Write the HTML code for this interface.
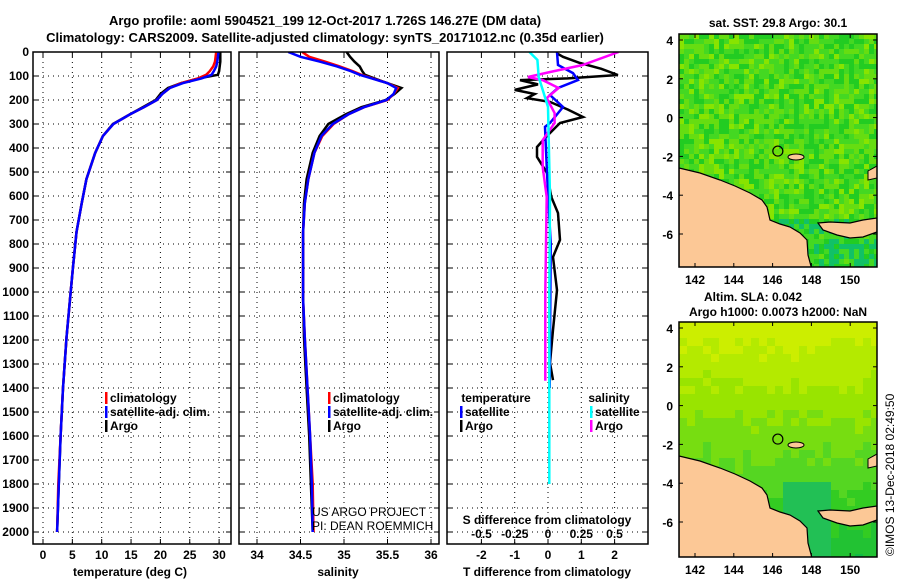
<!DOCTYPE html>
<html><head><meta charset="utf-8"><style>
body{margin:0;background:#fff;}
svg{display:block;font-family:"Liberation Sans",sans-serif;}
.b{font-weight:bold;font-size:13px;}
.t{font-weight:bold;font-size:12px;}
</style></head><body>
<svg id="s" width="900" height="580" viewBox="0 0 900 580">
<text x="325" y="25" text-anchor="middle" class="b">Argo profile: aoml 5904521_199 12-Oct-2017 1.726S 146.27E (DM data)</text>
<text x="325" y="42" text-anchor="middle" class="b">Climatology: CARS2009. Satellite-adjusted climatology: synTS_20171012.nc (0.35d earlier)</text>
<g id="g"></g>
</svg>
<script>
const depths=[0,20,40,60,80,95,110,130,150,175,200,230,260,300,350,420,530,630,750,900,1030,1190,1400,1600,1800,2000];
const argoT=[30.2,30.2,30.2,30.1,30.0,29.8,26.5,23.5,21.3,20.0,19.2,17.0,14.8,11.9,10.2,8.9,7.4,6.6,5.7,5.1,4.6,4.0,3.4,3.0,2.7,2.4];
const climT=[29.5,29.4,29.3,29.0,28.4,27.8,26.4,23.5,21.6,20.3,19.4,17.2,14.8,12.0,10.2,8.9,7.4,6.6,5.7,5.1,4.6,4.0,3.4,3.0,2.6,2.4];
const satT=[29.9,29.8,29.7,29.5,29.1,28.7,27.0,23.8,21.6,20.3,19.4,17.2,14.8,12.0,10.2,8.9,7.4,6.6,5.7,5.1,4.6,4.0,3.4,3.0,2.7,2.4];
const argoS=[35.03,35.07,35.12,35.18,35.21,35.24,35.35,35.5,35.66,35.58,35.48,35.2,35.02,34.82,34.72,34.64,34.57,34.54,34.53,34.53,34.53,34.54,34.57,34.6,34.62,34.64];
const climS=[34.52,34.6,34.78,34.95,35.1,35.2,35.33,35.5,35.62,35.57,35.5,35.23,35.05,34.88,34.75,34.66,34.59,34.55,34.53,34.53,34.53,34.55,34.58,34.61,34.64,34.65];
const satS=[34.36,34.5,34.72,34.92,35.08,35.18,35.32,35.5,35.6,35.57,35.49,35.23,35.05,34.87,34.74,34.66,34.59,34.55,34.53,34.53,34.53,34.55,34.58,34.61,34.63,34.64];
const argoDTdepth=[5,20,46,70,96,110,117,135,158,175,192,208,240,271,296,325,360,396,437,504,604,671,783,854,992,1158,1296,1367];
const argoDT=[0.26,0.45,0.96,1.6,2.1,0.6,-0.84,-0.3,-1.0,-0.4,-0.63,0.06,0.6,1.05,0.36,0.15,-0.1,-0.33,-0.33,-0.03,0.1,0.3,0.36,0.15,0.27,0.15,0.06,0.15];
const satDTdepth=[0,54,88,117,150,179,229,296,312,504,800,1400];
const satDT=[0.27,0.3,0.75,0.9,0.3,0.06,0.45,0.06,-0.09,-0.03,0.08,0.05];
const argoDSdepth=[0,54,83,104,117,150,192,254,296,367,479,604,1000,1370];
const argoDS=[0.53,0.26,0.02,-0.15,-0.04,0.08,-0.01,0.05,0.05,-0.04,-0.04,-0.01,-0.02,-0.02];
const satDSdepth=[0,33,104,158,229,604,1000,1800];
const satDS=[-0.14,-0.08,-0.07,-0.04,0,0.015,0.01,0.01];
const depthTicks=[0,100,200,300,400,500,600,700,800,900,1000,1100,1200,1300,1400,1500,1600,1700,1800,1900,2000];
const tTicks=[0,5,10,15,20,25,30];
const sTicks=[34,34.5,35,35.5,36];
const dtTicks=[-2,-1,0,1,2];
const dsTicks=[-0.5,-0.25,0,0.25,0.5];
const latTicks=[4,2,0,-2,-4,-6];
const lonTicks=[142,144,146,148,150];

const NS='http://www.w3.org/2000/svg';
const G=document.getElementById('g');
function el(tag,attrs,parent){const e=document.createElementNS(NS,tag);for(const k in attrs)e.setAttribute(k,attrs[k]);(parent||G).appendChild(e);return e;}
const yD=d=>52+0.24*d;
const xT=t=>43+5.87*t;
const xS=s=>257+87*(s-34);
const xDT=t=>548+33.3*t;
const xDS=s=>548+133*s;
const TOP=52,BOT=544;
const panels=[[33,231],[239,439],[447,648]];

const defs=el('defs',{});
panels.forEach((p,i)=>{const c=el('clipPath',{id:'c'+i},defs);el('rect',{x:p[0],y:TOP,width:p[1]-p[0],height:BOT-TOP},c);});

function grid(p,xs){
  const g=el('g',{});
  
  
  xs.forEach(x=>el('line',{x1:x,y1:TOP,x2:x,y2:BOT,stroke:'#000','stroke-width':1,'stroke-dasharray':'1,4'},g));
  depthTicks.forEach(d=>{el('line',{x1:p[0],y1:yD(d),x2:p[1],y2:yD(d),stroke:'#000','stroke-width':1,'stroke-dasharray':'1,4'},g);
    el('line',{x1:p[0],y1:yD(d),x2:p[0]+5,y2:yD(d),stroke:'#000','stroke-width':1},g);
    el('line',{x1:p[1]-5,y1:yD(d),x2:p[1],y2:yD(d),stroke:'#000','stroke-width':1},g);});
  xs.forEach(x=>{el('line',{x1:x,y1:BOT,x2:x,y2:BOT-5,stroke:'#000'},g);el('line',{x1:x,y1:TOP,x2:x,y2:TOP+5,stroke:'#000'},g);});
}
function frame(p,name){const r=el('rect',{x:p[0],y:TOP,width:p[1]-p[0],height:BOT-TOP,fill:'none',stroke:'#000','stroke-width':1.5});
  
  }
function line(xs,ds,fx,color,name,ci){
  const pts=xs.map((v,i)=>fx(v).toFixed(1)+','+yD(ds[i]).toFixed(1)).join(' ');
  const e=el('polyline',{points:pts,fill:'none',stroke:color,'stroke-width':2.5,'clip-path':'url(#c'+ci+')'});
  
  
}
function txt(x,y,s,cls,anchor,name){const e=el('text',{x:x,y:y,'text-anchor':anchor||'middle',class:cls||'t'});e.textContent=s;
  
  
  return e;}

depthTicks.forEach(d=>txt(29,yD(d)+4,String(d),'t','end','depth-tick-label'));

grid(panels[0],tTicks.map(xT));
line(argoT,depths,xT,'#000','argo-temperature-line',0);
line(climT,depths,xT,'#f00','climatology-temperature-line',0);
line(satT,depths,xT,'#00f','satellite-temperature-line',0);
frame(panels[0],'temperature-panel');
tTicks.forEach(t=>txt(xT(t),559,String(t),'t','middle','temperature-tick-label'));
txt(130,576,'temperature (deg C)','t','middle','temperature-axis-title');

grid(panels[1],sTicks.map(xS));
line(argoS,depths,xS,'#000','argo-salinity-line',1);
line(climS,depths,xS,'#f00','climatology-salinity-line',1);
line(satS,depths,xS,'#00f','satellite-salinity-line',1);
frame(panels[1],'salinity-panel');
sTicks.forEach(s=>txt(xS(s),559,String(s),'t','middle','salinity-tick-label'));
txt(338,576,'salinity','t','middle','salinity-axis-title');

grid(panels[2],dtTicks.map(xDT));
line(argoDT,argoDTdepth,xDT,'#000','argo-temperature-diff-line',2);
line(satDT,satDTdepth,xDT,'#00f','satellite-temperature-diff-line',2);
line(argoDS,argoDSdepth,xDS,'#f0f','argo-salinity-diff-line',2);
line(satDS,satDSdepth,xDS,'#0ff','satellite-salinity-diff-line',2);
frame(panels[2],'difference-panel');
dtTicks.forEach(t=>txt(xDT(t),559,String(t),'t','middle','t-diff-tick-label'));
txt(547,576,'T difference from climatology','t','middle','t-diff-axis-title');
dsTicks.forEach(s=>txt(xDS(s),538,String(s),'t','middle','s-diff-tick-label'));
txt(547,524,'S difference from climatology','t','middle','s-diff-axis-title');

function leg(x,y,color,label,name){const m=el('rect',{x:x-1,y:y-10,width:2.5,height:12,fill:color});
  
  
  txt(x+4,y,label,'t','start',name);}
leg(106,402,'#f00','climatology','legend-climatology');
leg(106,416,'#00f','satellite-adj. clim.','legend-satellite');
leg(106,430,'#000','Argo','legend-argo');
leg(329,402,'#f00','climatology','legend-climatology-s');
leg(329,416,'#00f','satellite-adj. clim.','legend-satellite-s');
leg(329,430,'#000','Argo','legend-argo-s');
txt(496,402,'temperature','t','middle','legend-temperature-heading');
txt(609,402,'salinity','t','middle','legend-salinity-heading');
leg(461,416,'#00f','satellite','legend-t-satellite');
leg(461,430,'#000','Argo','legend-t-argo');
leg(591,416,'#0ff','satellite','legend-s-satellite');
leg(591,430,'#f0f','Argo','legend-s-argo');
const u1=el('text',{x:312,y:516,'font-size':12});u1.textContent='US ARGO PROJECT';


const u2=el('text',{x:312,y:530,'font-size':12});u2.textContent='PI: DEAN ROEMMICH';



function hash(a,b,c){let h=(a*73856093)^(b*19349663)^(c*83492791);h=(h^(h>>13))*1274126177;return ((h^(h>>16))>>>0)/4294967296;}
function map(top,bot,idx){
  const L=679,R=877,lat0=top===34?40:328;
  const yl=l=>lat0+(4-l)*19.4, xl=l=>695+(l-142)*19.4;
  const cp=el('clipPath',{id:'m'+idx},defs);el('rect',{x:L,y:top,width:R-L,height:bot-top},cp);
  const g=el('g',{'clip-path':'url(#m'+idx+')'});
  
  
  const pal1=['#22cc22','#44d822','#66dd11','#88e400','#33cc33','#aaee00','#55d800','#ccf000'];
  const pal2=['#ccee00','#b4ea00','#99e400','#77dd11','#55d622','#33cc22','#22c233','#11bb44'];
  const bs=idx?8:5;
  for(let y=top;y<bot;y+=bs)for(let x=L;x<R;x+=bs){
    let c;const f=(y-top)/(bot-top);
    if(idx===0){const r=hash(x,y,1);let k=Math.floor(r*7);if(f<0.4&&r>0.6)k=7;if(f<0.4&&x<760&&r>0.92){c='#ffaa00';}else c=pal1[k];
      if(f>0.78&&r>0.3)c='#11c166';}
    else{let k=Math.floor(f*6.5+hash(x,y,2)*1.5);k=Math.min(7,k);c=pal2[k];if(f>0.65&&x>780&&x<830)c='#22c055';}
    el('rect',{x:x,y:y,width:bs,height:bs,fill:c},g);}
  const off=lat0-40;
  const land=[[679,168],[700,173],[720,180],[735,186],[750,193],[762,200],[767,207],[770,220],[780,224],[790,227],[800,233],[807,240],[808,255],[812,270],[679,270]];
  const isl=[[818,223],[830,222],[850,223],[863,220],[877,218],[877,232],[863,237],[850,238],[837,235],[823,230]];
  [land,isl].forEach(p=>{const e=el('polygon',{points:p.map(q=>q[0]+','+(q[1]+off)).join(' '),fill:'#fcc896',stroke:'#000','stroke-width':1.2},g);
    
    });
  const ni=el('ellipse',{cx:796,cy:157+off,rx:8,ry:3,fill:'#fcc896',stroke:'#000'},g);
  
  
  const fl=el('polygon',{points:[[868,171],[877,166],[877,178],[868,180]].map(q=>q[0]+','+(q[1]+off)).join(' '),fill:'#fcc896',stroke:'#000'},g);
  
  
  const ci=el('circle',{cx:xl(146.27),cy:yl(-1.726),r:5,fill:'none',stroke:'#000','stroke-width':1.2},g);
  
  
  const fr=el('rect',{x:L,y:top,width:R-L,height:bot-top,fill:'none',stroke:'#000','stroke-width':1.5});
  
  
  latTicks.forEach(l=>{el('line',{x1:L,y1:yl(l),x2:L+4,y2:yl(l),stroke:'#000'});el('line',{x1:R-4,y1:yl(l),x2:R,y2:yl(l),stroke:'#000'});
    txt(673,yl(l)+5,String(l),'t','end','map-lat-label');});
  lonTicks.forEach(l=>{el('line',{x1:xl(l),y1:top,x2:xl(l),y2:top+4,stroke:'#000'});el('line',{x1:xl(l),y1:bot-4,x2:xl(l),y2:bot,stroke:'#000'});
    txt(xl(l),bot+17,String(l),'t','middle','map-lon-label');});
}
map(34,267,0);
map(322,557,1);
txt(778,27,'sat. SST: 29.8 Argo: 30.1','t','middle','sst-map-title');
txt(753,301,'Altim. SLA: 0.042','t','middle','sla-map-title');
txt(778,316,'Argo h1000: 0.0073 h2000: NaN','t','middle','steric-height-title');
const cr=el('text',{x:0,y:0,'font-size':12,transform:'translate(894,556) rotate(-90)'});cr.textContent='©IMOS 13-Dec-2018 02:49:50';


</script>
</body></html>
